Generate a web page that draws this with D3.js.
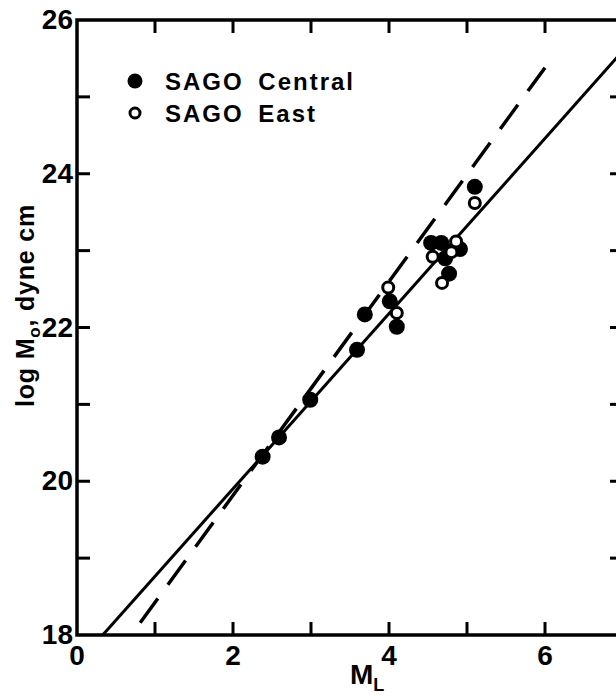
<!DOCTYPE html>
<html>
<head>
<meta charset="utf-8">
<script src="https://cdn.jsdelivr.net/npm/d3@7"></script>
<style>
  body { margin: 0; background: #fff; }
  svg { display: block; }
  text { font-family: "Liberation Sans", Arial, sans-serif; font-weight: bold; fill: #000; }
</style>
</head>
<body>
<svg id="chart" width="616" height="695"></svg>
<script>
// ML vs log Mo
const centralML = [2.38, 2.59, 2.99, 3.59, 3.69, 4.01, 4.10, 4.54, 4.67, 4.72, 4.77, 4.91, 5.10];
const centralLogM = [20.32, 20.57, 21.06, 21.71, 22.17, 22.34, 22.01, 23.10, 23.10, 22.90, 22.70, 23.02, 23.83];
const eastML = [3.99, 4.10, 4.56, 4.68, 4.86, 4.80, 5.10];
const eastLogM = [22.52, 22.19, 22.92, 22.58, 23.12, 22.98, 23.62];

// fitted lines (end points)
const solidLine = [[0.33, 18.0], [7.0, 25.6]];
const dashedLine = [[0.81, 18.16], [6.0, 25.38]];

const xTicksMajor = [0, 2, 4, 6];
const xTicksAll = [0, 1, 2, 3, 4, 5, 6, 7];
const yTicksMajor = [18, 20, 22, 24, 26];
const yTicksAll = [18, 19, 20, 21, 22, 23, 24, 25, 26];

const svg = d3.select("#chart");
const x = d3.scaleLinear().domain([0, 7]).range([77, 623]);
const y = d3.scaleLinear().domain([18, 26]).range([635, 20]);

const line = d3.line().x(d => x(d[0])).y(d => y(d[1]));

// fit lines
svg.append("path")
    .attr("d", line(solidLine))
    .attr("fill", "none")
    .attr("stroke", "#000")
    .attr("stroke-width", 3);

svg.append("path")
    .attr("d", line(dashedLine))
    .attr("fill", "none")
    .attr("stroke", "#000")
    .attr("stroke-width", 3.5)
    .attr("stroke-dasharray", "30,17");

// frame
svg.append("rect")
    .attr("x", x(0)).attr("y", y(26))
    .attr("width", x(7) - x(0)).attr("height", y(18) - y(26))
    .attr("fill", "none")
    .attr("stroke", "#000")
    .attr("stroke-width", 3.5);

// ticks, all pointing inward
const tickLen = 13;
const tickG = svg.append("g").attr("stroke", "#000").attr("stroke-width", 3);
xTicksAll.slice(1, -1).forEach(t => {
    tickG.append("line").attr("x1", x(t)).attr("x2", x(t)).attr("y1", y(18)).attr("y2", y(18) - tickLen);
    tickG.append("line").attr("x1", x(t)).attr("x2", x(t)).attr("y1", y(26)).attr("y2", y(26) + tickLen);
});
yTicksAll.slice(1, -1).forEach(t => {
    tickG.append("line").attr("x1", x(0)).attr("x2", x(0) + tickLen).attr("y1", y(t)).attr("y2", y(t));
    tickG.append("line").attr("x1", x(7)).attr("x2", x(7) - tickLen).attr("y1", y(t)).attr("y2", y(t));
});

// tick labels
svg.append("g").selectAll("text")
    .data(xTicksMajor)
    .join("text")
    .attr("x", d => x(d))
    .attr("y", y(18) + 30)
    .attr("text-anchor", "middle")
    .attr("font-size", 28)
    .text(d => d);

svg.append("g").selectAll("text")
    .data(yTicksMajor)
    .join("text")
    .attr("x", x(0) - 4)
    .attr("y", d => y(d) + 9)
    .attr("text-anchor", "end")
    .attr("font-size", 28)
    .text(d => d);

// axis titles
const xt = svg.append("text")
    .attr("x", 350)
    .attr("y", 684)
    .attr("font-size", 28);
xt.append("tspan").text("M");
xt.append("tspan").attr("font-size", 18).attr("dy", 7).text("L");

const yt = svg.append("text")
    .attr("transform", `translate(34, ${y(22) - 22}) rotate(-90)`)
    .attr("text-anchor", "middle")
    .attr("font-size", 25)
    .attr("letter-spacing", 0.8);
yt.append("tspan").text("log M");
yt.append("tspan").attr("font-size", 17).attr("dy", 6).text("o");
yt.append("tspan").attr("dy", -6).text(", dyne cm");

// data points
const central = centralML.map((d, i) => [d, centralLogM[i]]);
const east = eastML.map((d, i) => [d, eastLogM[i]]);

svg.append("g").selectAll("circle")
    .data(central)
    .join("circle")
    .attr("cx", d => x(d[0]))
    .attr("cy", d => y(d[1]))
    .attr("r", 8)
    .attr("fill", "#000");

svg.append("g").selectAll("circle")
    .data(east)
    .join("circle")
    .attr("cx", d => x(d[0]))
    .attr("cy", d => y(d[1]))
    .attr("r", 5.5)
    .attr("fill", "#fff")
    .attr("stroke", "#000")
    .attr("stroke-width", 3);

// legend
const legend = svg.append("g");
legend.append("circle").attr("cx", 135).attr("cy", 81).attr("r", 7.5).attr("fill", "#000");
legend.append("circle").attr("cx", 135).attr("cy", 113).attr("r", 5).attr("fill", "#fff")
    .attr("stroke", "#000").attr("stroke-width", 3);
legend.append("text").attr("x", 165).attr("y", 90).attr("font-size", 24)
    .attr("letter-spacing", 2).attr("word-spacing", 6).text("SAGO Central");
legend.append("text").attr("x", 165).attr("y", 122).attr("font-size", 24)
    .attr("letter-spacing", 2).attr("word-spacing", 6).text("SAGO East");
</script>
</body>
</html>
